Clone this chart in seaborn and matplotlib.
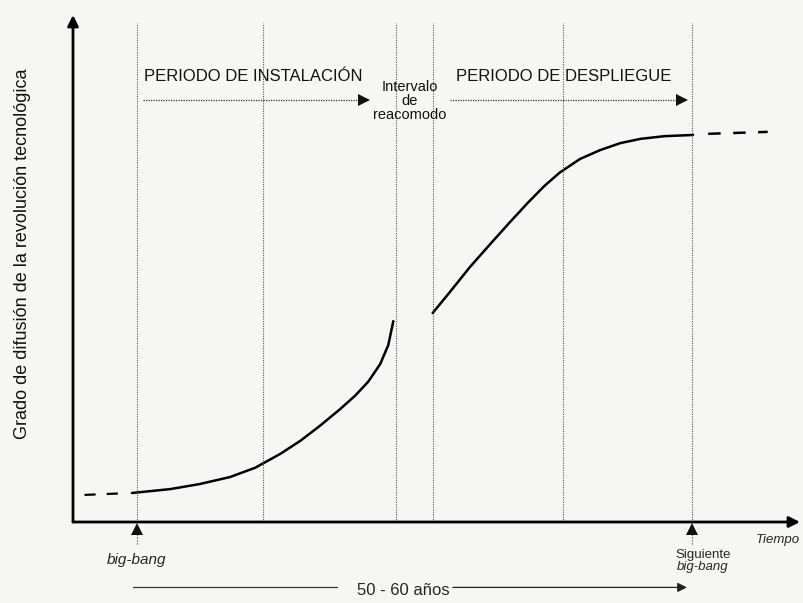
import matplotlib
matplotlib.use('Agg')
import matplotlib.pyplot as plt
import seaborn as sns
import pandas as pd

# %%
# Valores (x en años desde el big-bang, y en % de difusión)
fases = [0, 12.5, 25.7, 29.3, 42.2, 55]

x_instalacion = [-0.5, 3.3, 6.2, 9.2, 11.7, 14.2, 16.2, 18.1, 20.1, 21.6, 22.9, 24.1, 24.9, 25.4]
y_instalacion = [7.5, 8.5, 9.8, 11.6, 14.0, 17.6, 21.0, 24.8, 29.1, 32.6, 36.2, 40.8, 45.7, 51.9]

x_despliegue = [29.3, 31.0, 33.0, 35.0, 37.0, 38.7, 40.4, 41.9, 43.9, 45.9, 47.9, 49.9, 52.3, 55.1]
y_despliegue = [54.0, 59.4, 65.9, 71.8, 77.6, 82.4, 86.9, 90.3, 93.8, 96.1, 97.9, 99.0, 99.7, 100.0]

x_previo = [-5.2, -1.5]
y_previo = [7.0, 7.4]
x_siguiente = [56.6, 62.5]
y_siguiente = [100.3, 100.8]

etiquetas_periodo = ['PERIODO DE INSTALACIÓN', 'PERIODO DE DESPLIEGUE']
centro_periodo = [11.5, 42.3]
flechas_periodo = [(0.6, 23.1), (31.0, 54.6)]

# %%
sns.set_theme(style='white')
plt.rcParams['font.family'] = ['Liberation Sans', 'DejaVu Sans']
fondo = '#f6f6f4'

fig = plt.figure(figsize=(8.04, 6.03), dpi=100, facecolor=fondo)
ax = fig.add_axes([73 / 804, 81 / 603, 727 / 804, 507 / 603])
ax.set_facecolor(fondo)
ax.set_xlim(-6.34, 65.7)
ax.set_ylim(0, 131)

# Curva de difusión
df_inst = pd.DataFrame({'t': x_instalacion, 'g': y_instalacion})
df_desp = pd.DataFrame({'t': x_despliegue, 'g': y_despliegue})
sns.lineplot(data=df_inst, x='t', y='g', ax=ax, color='black', lw=1.8, sort=False)
sns.lineplot(data=df_desp, x='t', y='g', ax=ax, color='black', lw=1.8, sort=False)
sns.lineplot(x=x_previo, y=y_previo, ax=ax, color='black', lw=1.6)
sns.lineplot(x=x_siguiente, y=y_siguiente, ax=ax, color='black', lw=1.8)
for ln in ax.lines[-2:]:
    ln.set_dashes((5, 5))

# Líneas verticales de fases
ax.vlines(fases, 0, 129, colors='#555555', linestyles=(0, (1, 1.2)), lw=0.8)

# Flechas y textos de los periodos
for txt, cx, (x0, x1) in zip(etiquetas_periodo, centro_periodo, flechas_periodo):
    ax.text(cx, 115.2, txt, ha='center', va='center', fontsize=12, color='#111111')
    ax.plot([x0, x1 - 0.8], [109, 109], color='#333333', lw=0.9, ls=(0, (1, 1)))
    ax.plot([x1 - 0.6], [109], marker='>', color='#111111', ms=8, mew=0)

ax.text(27.06, 108.8, 'Intervalo\nde\nreacomodo', ha='center', va='center',
        fontsize=10.5, linespacing=1.0, color='#111111')

# Ejes con flechas
ax.annotate('', xy=(0, 1), xytext=(0, 0), xycoords='axes fraction',
            arrowprops=dict(arrowstyle='-|>', color='black', lw=2, mutation_scale=16,
                            shrinkA=0, shrinkB=0))
ax.annotate('', xy=(1, 0), xytext=(0, 0), xycoords='axes fraction',
            arrowprops=dict(arrowstyle='-|>', color='black', lw=2, mutation_scale=16,
                            shrinkA=0, shrinkB=0))
sns.despine(ax=ax, left=True, bottom=True)
ax.set_xticks([])
ax.set_yticks([])
ax.set_xlabel('')
ax.set_ylabel('Grado de difusión de la revolución tecnológica', fontsize=13,
              color='#111111')
ax.yaxis.set_label_coords(-0.058, 0.53)

# Big-bang y siguiente big-bang
for xb in [fases[0], fases[-1]]:
    ax.plot([xb, xb], [-5.6, -2.5], color='#333333', lw=0.8, ls=':', clip_on=False)
    ax.plot([xb], [-1.9], marker='^', color='#111111', ms=8, mew=0, clip_on=False)
ax.text(fases[0], -9.8, 'big-bang', ha='center', va='center', style='italic',
        fontsize=11, clip_on=False)
ax.text(56.1, -8.6, 'Siguiente', ha='center', va='center', fontsize=9.5, clip_on=False)
ax.text(56.1, -11.7, 'big-bang', ha='center', va='center', style='italic',
        fontsize=9.5, clip_on=False)
ax.text(65.7, -4.65, 'Tiempo', ha='right', va='center', style='italic',
        fontsize=9.5, clip_on=False)

# Duración del ciclo
ax.text(26.4, -17.6, '50 - 60 años', ha='center', va='center', fontsize=12,
        clip_on=False)
ax.plot([-0.4, 19.8], [-16.9, -16.9], color='#333333', lw=0.9, clip_on=False)
ax.annotate('', xy=(54.5, -16.9), xytext=(31.3, -16.9), annotation_clip=False,
            arrowprops=dict(arrowstyle='-|>', color='#222222', lw=0.9,
                            mutation_scale=14, shrinkA=0, shrinkB=0))

plt.savefig('out.png', dpi=100, facecolor=fondo)
